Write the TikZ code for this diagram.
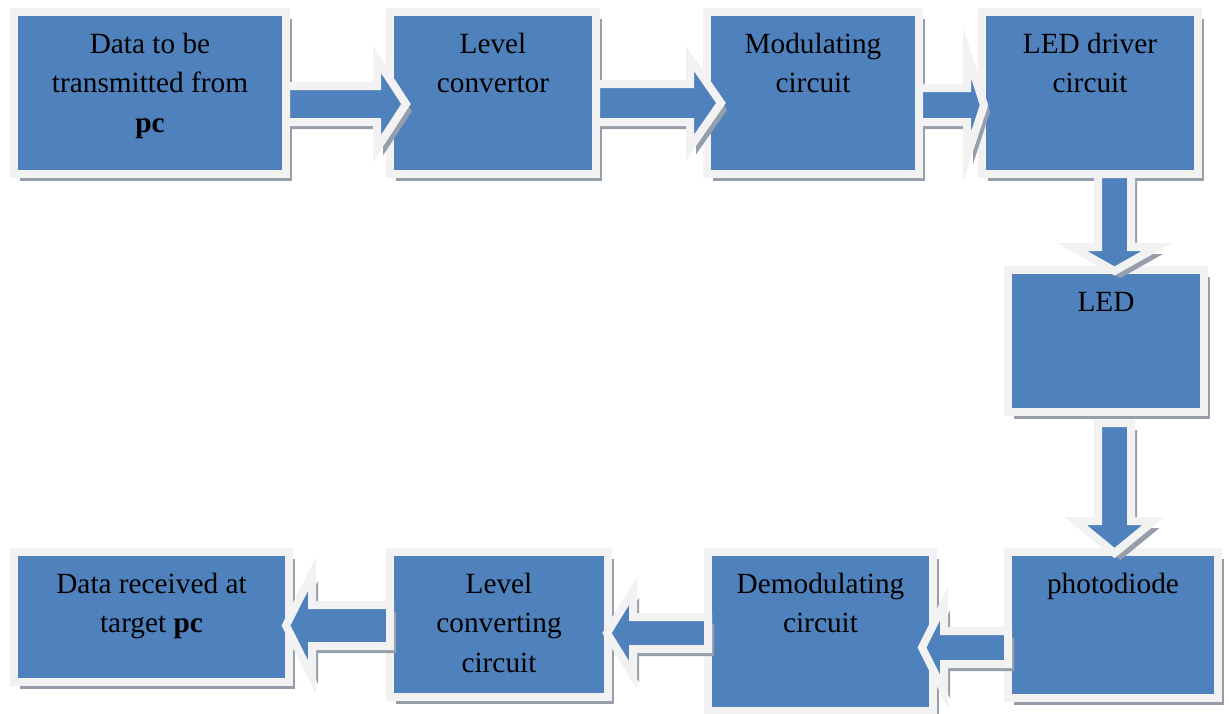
\documentclass[tikz,border=0pt]{standalone}
\usepackage{fontspec}
\setmainfont{Liberation Serif}
\usetikzlibrary{calc,shadows}

\definecolor{boxblue}{RGB}{79,129,189}
\definecolor{rimgray}{RGB}{242,242,242}
\definecolor{dotgray}{RGB}{150,158,172}

\tikzset{
  shd/.style={drop shadow={shadow xshift=6pt, shadow yshift=-7pt, fill=dotgray, opacity=1}},
  blk/.style 2 args={draw=rimgray, line width=8pt, fill=boxblue, shd, inner sep=0pt,
    minimum width=#1pt, minimum height=#2pt},
  barr/.style={draw=rimgray, line width=8pt, fill=boxblue, shd},
}

%% text of a box, set from its top
\newcommand{\boxtxt}[3]{\parbox[c][#2pt][t]{#1pt}{\centering\rule{0pt}{41pt}#3}}

%% block arrow: tail, tip, half shaft, half head, head length
\newcommand{\barrow}[5]{%
  \draw[barr] let \p1=(#1), \p2=(#2),
      \n1={veclen(\x2-\x1,\y2-\y1)}, \n2={atan2(\y2-\y1,\x2-\x1)} in
    {[shift={(\p1)}, rotate=\n2]
      (0,-#3) -- (\n1-#5,-#3) -- (\n1-#5,-#4) -- (\n1,0)
      -- (\n1-#5,#4) -- (\n1-#5,#3) -- (0,#3) -- cycle};
}

\begin{document}
\begin{tikzpicture}[x=1pt, y=-1pt, font=\fontsize{29.3pt}{39.5pt}\selectfont]
  \useasboundingbox (0,0) rectangle (1229,713);

  %%top row
  \node[blk={272}{162}] (src) at (150,93)
    {\boxtxt{262}{162}{Data to be\\transmitted from\\\textbf{pc}}};
  \node[blk={206}{162}] (lvl) at (493,93)
    {\boxtxt{196}{162}{Level\\convertor}};
  \node[blk={212}{162}] (mod) at (813,93)
    {\boxtxt{202}{162}{Modulating\\circuit}};
  \node[blk={216}{162}] (drv) at (1090,93)
    {\boxtxt{206}{162}{LED driver\\circuit}};

  %%right column
  \node[blk={196}{142}] (led) at (1106,341)
    {\boxtxt{186}{142}{LED}};
  \node[blk={210}{146}] (pd) at (1113,625)
    {\boxtxt{200}{146}{photodiode}};

  %%bottom row
  \node[blk={225}{159}] (demod) at (820.5,631.5)
    {\boxtxt{215}{159}{Demodulating\\circuit}};
  \node[blk={218}{145}] (lvc) at (499,624.5)
    {\boxtxt{208}{145}{Level\\converting\\circuit}};
  \node[blk={275}{130}] (dst) at (151.5,617)
    {\boxtxt{265}{130}{Data received at\\target \textbf{pc}}};

  %%arrows
  \barrow{[shift={(-4pt,-11pt)}]src.east}{[shift={(20pt,-11pt)}]lvl.west}{18}{44.5}{29}
  \barrow{[shift={(-4pt,-10pt)}]lvl.east}{[shift={(18pt,-10pt)}]mod.west}{19}{44.5}{31}
  \barrow{[shift={(-4pt,-12pt)}]mod.east}{[shift={(6pt,-12pt)}]drv.west}{17}{52}{17}
  \barrow{[shift={(24.5pt,4pt)}]drv.south}{[shift={(8.5pt,-5pt)}]led.north}{16.5}{42.5}{24}
  \barrow{[shift={(8.5pt,-7pt)}]led.south}{[shift={(1.5pt,-5pt)}]pd.north}{16.5}{39}{32}
  \barrow{[shift={(4pt,-22.5pt)}]pd.west}{[shift={(-15pt,-16pt)}]demod.east}{16.5}{44}{22}
  \barrow{[shift={(4pt,-1.5pt)}]demod.west}{[shift={(-5pt,-8.5pt)}]lvc.east}{16}{42}{26}
  \barrow{[shift={(4pt,-1pt)}]lvc.west}{[shift={(-7pt,-8.5pt)}]dst.east}{20.5}{51.5}{26}
\end{tikzpicture}
\end{document}
